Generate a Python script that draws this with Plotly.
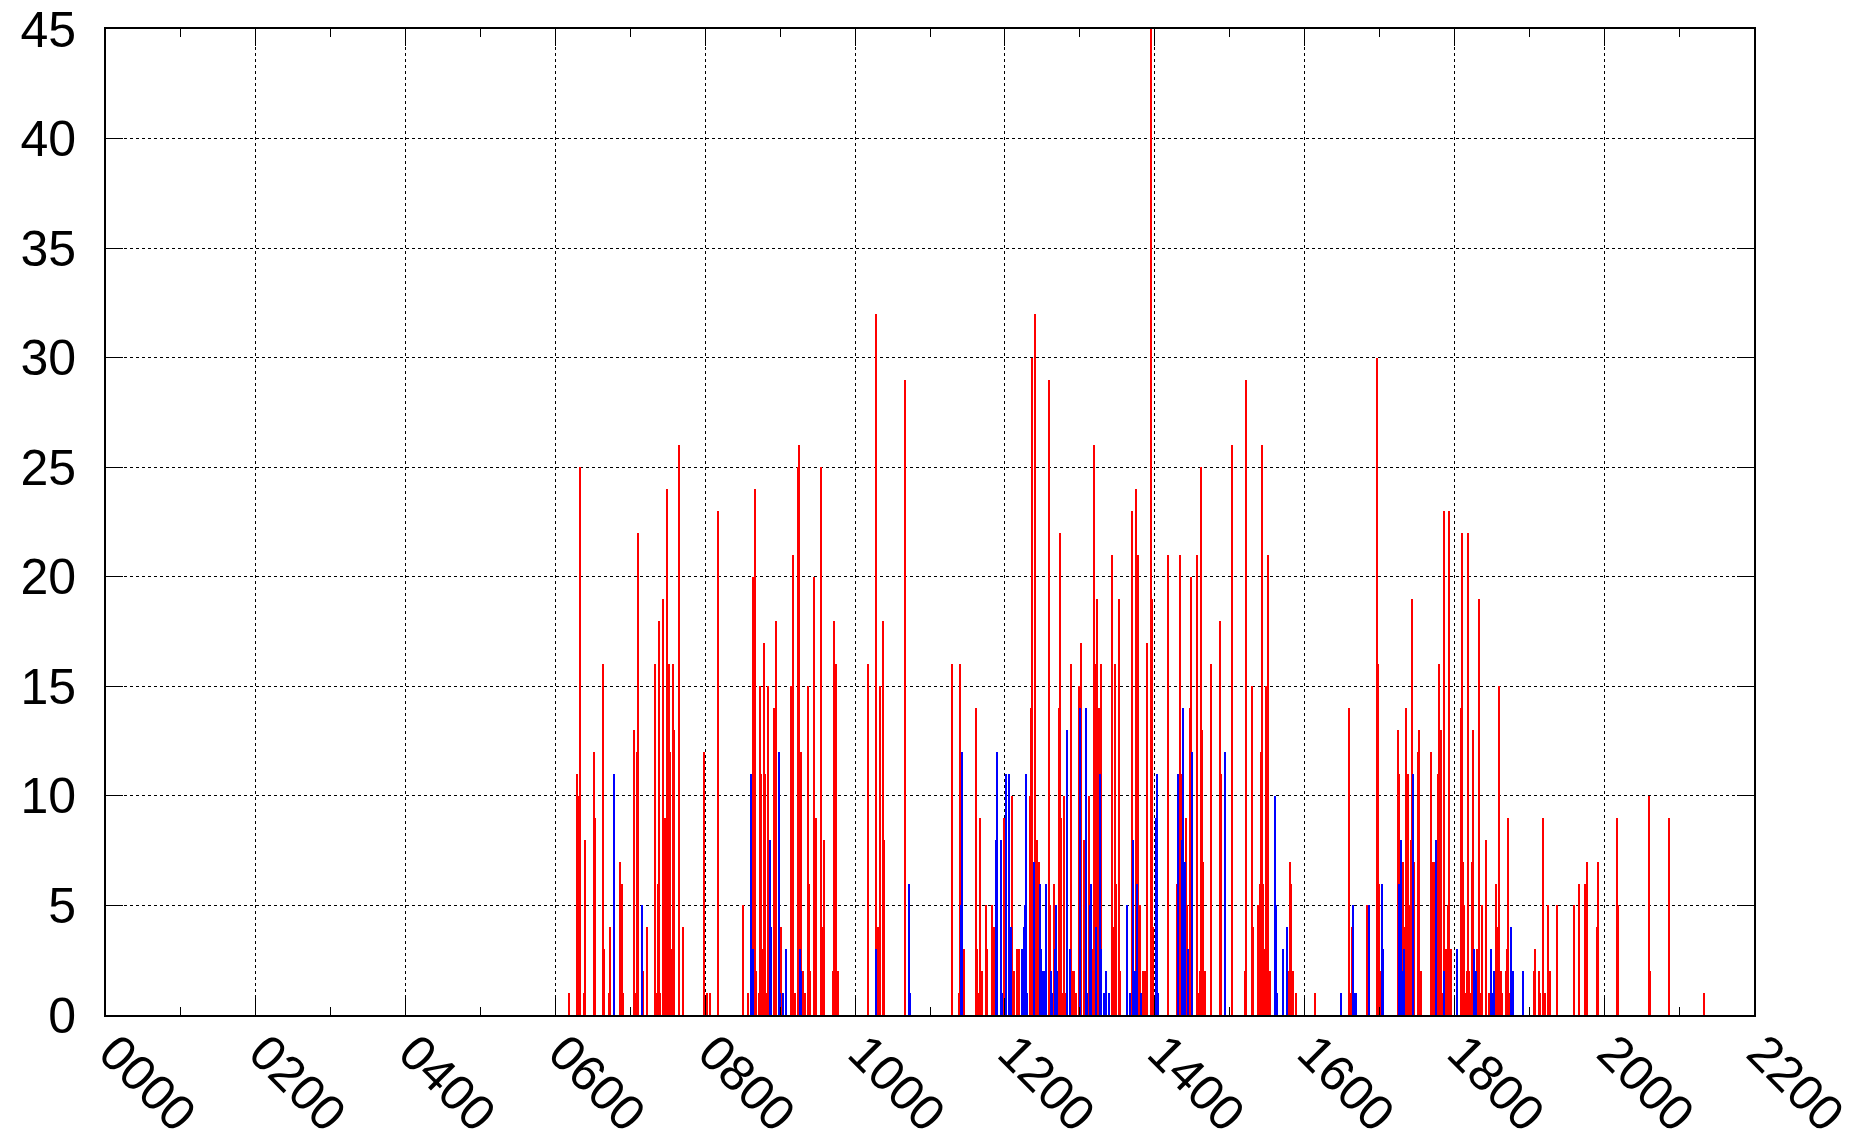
import plotly.graph_objects as go

DAY = "2024-01-01 "

red_times = ["06:11","06:17","06:18","06:20","06:23","06:24","06:31","06:32","06:38","06:39","06:43","06:44",
 "06:52","06:53","06:54","07:03","07:04","07:05","07:06","07:10","07:13","07:20","07:21","07:22","07:23","07:24",
 "07:26","07:27","07:28","07:29","07:30","07:31","07:32","07:33","07:34","07:35","07:39","07:42",
 "07:59","08:01","08:04","08:10","08:30","08:34","08:38","08:39","08:40","08:41","08:43","08:44","08:45","08:46",
 "08:47","08:48","08:49","08:50","08:55","08:56","08:57","09:01","09:09","09:10","09:12","09:14","09:15","09:17",
 "09:18","09:20","09:22","09:23","09:24","09:27","09:29","09:33","09:34","09:35","09:42","09:43","09:44","09:45","09:46",
 "10:10","10:17","10:18","10:20","10:22","10:23","10:40","11:18","11:23","11:24","11:27","11:37","11:38","11:39",
 "11:40","11:41","11:42","11:45","11:46","11:50","11:51","11:59","12:06","12:07","12:10","12:11","12:20","12:21",
 "12:22","12:24","12:25","12:26","12:27","12:35","12:36","12:39","12:43","12:44","12:45","12:46","12:47","12:49",
 "12:53","12:54","12:55","12:57","12:59","13:01","13:03","13:04","13:07","13:10","13:11","13:12","13:14","13:15",
 "13:17","13:26","13:27","13:28","13:29","13:31","13:32","13:42","13:45","13:47","13:48","13:51","13:52","13:54",
 "13:57","13:58","13:59","14:11","14:18","14:20","14:22","14:25","14:26","14:28","14:29","14:34","14:35","14:36",
 "14:37","14:38","14:39","14:40","14:45","14:52","14:53","15:02","15:12","15:13","15:18","15:19","15:23","15:24",
 "15:25","15:26","15:27","15:28","15:29","15:30","15:31","15:32","15:47","15:48","15:49","15:50","15:51","15:53",
 "16:08","16:36","16:37","16:38","16:50","16:58","16:59","17:00","17:01","17:15","17:16","17:19","17:20","17:21",
 "17:22","17:23","17:24","17:25","17:26","17:28","17:31","17:32","17:33","17:41","17:43","17:44","17:46","17:47",
 "17:48","17:49","17:51","17:52","17:53","17:54","17:55","17:56","17:57","18:05","18:06","18:07","18:08","18:09",
 "18:10","18:11","18:12","18:13","18:14","18:15","18:18","18:19","18:20","18:21","18:22","18:25","18:28","18:33",
 "18:35","18:36","18:37","18:38","18:41","18:42","18:43","18:44","19:04","19:05","19:08","19:09","19:11","19:12",
 "19:13","19:15","19:17","19:22","19:36","19:40","19:45","19:46","19:54","19:55","20:10","20:11","20:36","20:37",
 "20:52","21:20"]
red_values = [1,11,10,25,1,8,12,9,16,3,1,4,
 7,6,1,13,1,12,22,2,4,16,1,6,18,1,
 19,9,9,24,14,16,12,3,16,13,26,4,
 12,1,1,23,5,1,20,9,24,2,1,15,11,3,
 17,11,1,15,14,4,18,4,15,21,1,25,26,12,
 2,1,15,6,2,20,9,25,4,8,2,18,12,16,2,
 16,32,4,15,18,8,29,16,1,16,3,14,3,1,
 9,1,2,5,3,5,4,9,10,2,3,3,10,14,
 30,32,1,8,7,29,5,6,14,22,9,1,10,1,
 16,2,2,1,15,17,8,3,10,3,26,16,19,14,
 16,21,4,16,6,19,2,23,24,21,5,2,2,17,
 45,19,4,21,6,21,11,9,5,14,20,21,1,2,
 25,13,7,2,16,18,11,26,2,29,15,4,5,6,
 12,26,6,3,15,1,21,2,2,7,6,1,2,1,
 1,14,1,4,5,30,16,6,2,13,11,7,4,14,
 2,11,5,8,19,7,12,13,2,12,7,7,3,11,
 16,13,1,23,3,1,5,23,3,14,22,7,5,1,
 2,22,2,1,7,13,3,3,19,1,5,8,1,6,
 4,15,2,1,2,3,9,1,2,3,2,1,9,1,
 1,5,2,5,5,6,6,7,4,7,9,5,10,2,
 9,1]

blue_times = ["06:47","07:09","08:37","08:38","08:52","08:53","08:59","09:00","09:02","09:05","09:16","09:17",
 "10:17","10:43","10:44","11:25","11:26","11:53","11:54","11:57","11:58","12:01","12:03","12:05","12:14","12:15",
 "12:16","12:17","12:18","12:23","12:28","12:29","12:30","12:31","12:33","12:37","12:38","12:40","12:41","12:42",
 "12:50","12:52","13:00","13:05","13:06","13:08","13:09","13:13","13:16","13:17","13:19","13:21","13:23","13:38",
 "13:40","13:43","13:44","13:46","13:49","14:01","14:02","14:03","14:19","14:22","14:23","14:24","14:27","14:30",
 "14:56","15:36","15:37","15:38","15:43","15:46","16:29","16:39","16:40","16:41","16:52","17:02","17:03","17:16",
 "17:17","17:18","17:20","17:27","17:45","17:52","18:02","18:16","18:17","18:29","18:30","18:32","18:45","18:46",
 "18:47","18:55"]
blue_values = [11,5,11,3,8,4,12,1,1,3,3,2,
 3,6,1,5,12,8,12,8,1,11,11,4,3,4,
 5,11,1,7,6,3,2,2,6,2,1,3,5,2,
 13,3,14,14,1,5,6,4,11,3,1,2,1,5,
 1,8,2,6,1,9,11,1,11,8,14,7,3,12,
 12,10,5,1,3,4,1,5,1,1,5,6,3,6,
 8,2,3,11,8,2,3,3,2,3,1,2,4,2,
 2,2]

x_range = [DAY + "00:00", DAY + "22:00"]
y_range = [0, 45]

BAR_W = 50000  # ms

fig = go.Figure()
fig.add_trace(go.Bar(x=[DAY + t for t in red_times], y=red_values, width=BAR_W,
                     marker=dict(color="#ff0000", line=dict(width=0)), name="red"))
fig.add_trace(go.Bar(x=[DAY + t for t in blue_times], y=blue_values, width=BAR_W,
                     marker=dict(color="#0000ff", line=dict(width=0)), name="blue"))

font = dict(family="Liberation Sans, Arial, sans-serif", size=50, color="black")

fig.update_layout(
    width=1866, height=1143,
    margin=dict(l=106, r=112, t=29, b=128, pad=0, autoexpand=False),
    paper_bgcolor="white", plot_bgcolor="white",
    barmode="overlay", bargap=0,
    showlegend=False,
    font=font,
)
fig.update_xaxes(
    type="date", range=x_range, tickformat="%H%M", dtick=7200000,
    tick0=DAY + "00:00",
    tickangle=45, tickfont=font, automargin=False,
    ticks="inside", ticklen=17, tickwidth=1, tickcolor="black",
    minor=dict(ticks="inside", ticklen=8, dtick=3600000, tickcolor="black", showgrid=False),
    showgrid=True, gridcolor="black", gridwidth=1, griddash="3px,3px",
    showline=True, linecolor="black", linewidth=2, mirror="allticks",
    zeroline=False, ticklabelstandoff=-14, ticklabelshift=8,
)
fig.update_yaxes(
    range=y_range, dtick=5, tickfont=font, automargin=False,
    ticks="inside", ticklen=17, tickwidth=1, tickcolor="black",
    showgrid=True, gridcolor="black", gridwidth=1, griddash="3px,3px",
    showline=True, linecolor="black", linewidth=2, mirror="allticks",
    zeroline=False, ticklabelstandoff=18,
)

fig.write_html("out.html", config={"displayModeBar": False},
               post_script="document.body.style.margin='0';document.body.style.overflow='hidden';")
